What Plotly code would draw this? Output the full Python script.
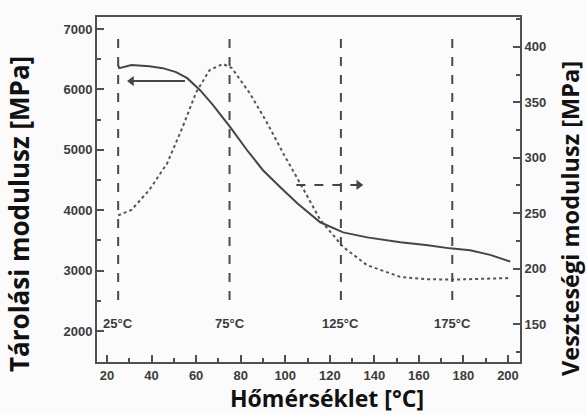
import plotly.graph_objects as go

# Storage modulus (left axis) vs temperature
temp_storage = [25, 25.5, 31, 39, 45, 51, 56, 61.8, 67.6, 75.3, 82.9, 90, 97.8, 105.4,
                115.7, 126, 136.8, 151.7, 164, 174, 183, 192, 201]
storage_mod = [6400, 6353, 6403, 6386, 6353, 6287, 6187, 5988, 5740, 5375, 4993, 4662,
               4380, 4114, 3800, 3633, 3550, 3468, 3420, 3368, 3335, 3260, 3150]

# Loss modulus (right axis) vs temperature
temp_loss = [25, 31, 39, 47, 54, 60, 66, 72, 76, 84, 92, 99.5, 106.7, 115.7, 126,
             136.8, 151.7, 163, 174, 188, 201]
loss_mod = [248, 253, 271, 295, 328, 359, 379, 384.7, 381, 358.5, 331, 302.5, 277, 244,
            219.5, 203, 192.5, 190.5, 190, 191, 191.5]

# Reference temperatures marked with dashed guides
ref_temps = [25, 75, 125, 175]
ref_labels = ["25°C", "75°C", "125°C", "175°C"]
guide_span = [2514, 6950]
label_level = 2130

# Direction arrows: which curve belongs to which axis
arrow_left_x = [55, 31]
arrow_left_y = 6138
arrow_right_x = [105, 133]
arrow_right_y = 275.5

x_ticks = list(range(20, 201, 20))
left_ticks = list(range(2000, 7001, 1000))
right_ticks = list(range(150, 401, 50))

line_col = "#454545"
guide_col = "#4a4a4a"
tick_font = dict(family="Liberation Sans, Arial, sans-serif", size=13, color="#3c3c3c",
                 weight="bold")
title_family = "Open Sans, sans-serif"

fig = go.Figure()

fig.add_trace(go.Scatter(x=temp_storage, y=storage_mod, mode="lines",
                         line=dict(color=line_col, width=2), showlegend=False))
fig.add_trace(go.Scatter(x=temp_loss, y=loss_mod, mode="lines", yaxis="y2",
                         line=dict(color="#555555", width=2, dash="dot"), showlegend=False))

# Left arrow (solid) pointing to the storage axis
fig.add_trace(go.Scatter(x=arrow_left_x, y=[arrow_left_y] * 2, mode="lines",
                         line=dict(color=line_col, width=2), showlegend=False))
fig.add_trace(go.Scatter(x=[arrow_left_x[-1]], y=[arrow_left_y], mode="markers",
                         marker=dict(symbol="triangle-left", size=9, color=line_col),
                         showlegend=False))
# Right arrow (dashed) pointing to the loss axis
fig.add_trace(go.Scatter(x=arrow_right_x, y=[arrow_right_y] * 2, mode="lines", yaxis="y2",
                         line=dict(color=line_col, width=2, dash="dash"), showlegend=False))
fig.add_trace(go.Scatter(x=[arrow_right_x[-1]], y=[arrow_right_y], mode="markers", yaxis="y2",
                         marker=dict(symbol="triangle-right", size=9, color=line_col),
                         showlegend=False))

for t, lab in zip(ref_temps, ref_labels):
    fig.add_shape(type="line", x0=t, x1=t, y0=guide_span[0], y1=guide_span[1],
                  xref="x", yref="y", line=dict(color=guide_col, width=2, dash="dash"))
    fig.add_annotation(x=t, y=label_level, xref="x", yref="y", text=lab, showarrow=False,
                       font=dict(family="Liberation Sans, Arial, sans-serif", size=13,
                                 color="#3c3c3c", weight="bold"))

axis_common = dict(showline=True, linecolor="#505050", linewidth=2, ticks="inside",
                   tickcolor="#505050", tickwidth=2, ticklen=7, showgrid=False,
                   zeroline=False, tickfont=tick_font)

fig.update_layout(
    width=587, height=415,
    margin=dict(l=97, r=67, t=17, b=53),
    paper_bgcolor="#fbfbfb", plot_bgcolor="#fbfbfb",
    xaxis=dict(range=[15.5, 205.4], tickvals=x_ticks, mirror=True,
               minor=dict(dtick=10, tick0=0, ticks="inside", ticklen=4,
                          tickcolor="#505050", tickwidth=2),
               **axis_common),
    yaxis=dict(range=[1486, 7200], tickvals=left_ticks,
               minor=dict(dtick=500, tick0=0, ticks="inside", ticklen=4,
                          tickcolor="#505050", tickwidth=2),
               **axis_common),
    yaxis2=dict(range=[115.7, 427], tickvals=right_ticks, overlaying="y", side="right",
                minor=dict(dtick=25, tick0=0, ticks="inside", ticklen=4,
                           tickcolor="#505050", tickwidth=2),
                **axis_common),
)

# Axis titles placed by pixel position, converted to paper coordinates below
titles = [
    ("Tárolási modulusz [MPa]", 19, 214, -90, 26),
    ("Veszteségi modulusz [MPa]", 570, 219, -90, 23.5),
    ("Hőmérséklet [°C]", 327, 398, 0, 23),
]
pw, ph = 587 - 97 - 67, 415 - 17 - 53
for text, px, py, ang, size in titles:
    fig.add_annotation(x=(px - 97) / pw, y=(415 - 53 - py) / ph, xref="paper", yref="paper",
                       xanchor="center", yanchor="middle", text=text, showarrow=False,
                       textangle=ang,
                       font=dict(family=title_family, size=size, color="#111111",
                                 weight="bold"))

fig.write_html("out.html")
